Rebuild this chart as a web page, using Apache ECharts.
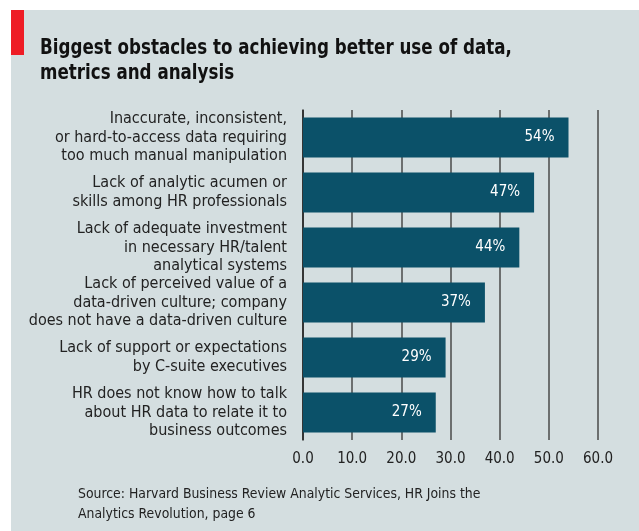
<!DOCTYPE html>
<html><head><meta charset="utf-8">
<script src="https://cdn.jsdelivr.net/npm/echarts@6/dist/echarts.min.js"></script>
<style>html,body{margin:0;padding:0;background:#fff}#c{width:639px;height:531px}</style>
</head><body><div id="c"></div>
<script>
var categories = [
  "Inaccurate, inconsistent,\nor hard-to-access data requiring\ntoo much manual manipulation",
  "Lack of analytic acumen or\nskills among HR professionals",
  "Lack of adequate investment\nin necessary HR/talent\nanalytical systems",
  "Lack of perceived value of a\ndata-driven culture; company\ndoes not have a data-driven culture",
  "Lack of support or expectations\nby C-suite executives",
  "HR does not know how to talk\nabout HR data to relate it to\nbusiness outcomes"
];
var values = [54, 47, 44, 37, 29, 27];
var xTicks = [0, 10, 20, 30, 40, 50, 60];
var titleText = "Biggest obstacles to achieving better use of data,\nmetrics and analysis";
var sourceText = "Source: Harvard Business Review Analytic Services, HR Joins the\nAnalytics Revolution, page 6";

var FONT = "DejaVu Sans Condensed";
var chart = echarts.init(document.getElementById('c'));
chart.setOption({
  backgroundColor: '#fff',
  animation: false,
  graphic: [
    {type:'rect', shape:{x:11,y:10,width:628,height:521}, style:{fill:'#d4dee0'}, z:-10},
    {type:'rect', shape:{x:11,y:10,width:13,height:45}, style:{fill:'#ee1c25'}, z:-5},
    {type:'text', x:40, y:36, scaleX:0.885, style:{text:titleText, font:'bold 21px "'+FONT+'"', fill:'#111', lineHeight:25}},
    {type:'text', x:78, y:484, scaleX:0.99, style:{text:sourceText, font:'14px "'+FONT+'"', fill:'#222', lineHeight:20}}
  ],
  grid: {left:303, right:41, top:110, bottom:91, containLabel:false},
  xAxis: {
    type:'value', min:0, max:60, interval:10,
    axisLine:{show:false}, axisTick:{show:false},
    splitLine:{show:true, lineStyle:{color:'#4a4a4a', width:1.5}},
    axisLabel:{color:'#222', fontFamily:FONT, fontSize:15, margin:12,
      formatter:function(v){ return xTicks.indexOf(v) >= 0 ? v.toFixed(1) : ''; }}
  },
  yAxis: {
    type:'category', data:categories, inverse:true,
    axisLine:{show:true, lineStyle:{color:'#222', width:1.5}}, axisTick:{show:false},
    axisLabel:{color:'#222', fontFamily:FONT, fontSize:16, lineHeight:18.5, margin:16, align:'right'}
  },
  series: [{
    type:'bar', data:values, barWidth:40,
    itemStyle:{color:'#0b5169'},
    label:{show:true, position:'insideRight', distance:14, color:'#fff', fontFamily:FONT, fontSize:15, formatter:'{c}%'}
  }]
});
</script></body></html>
